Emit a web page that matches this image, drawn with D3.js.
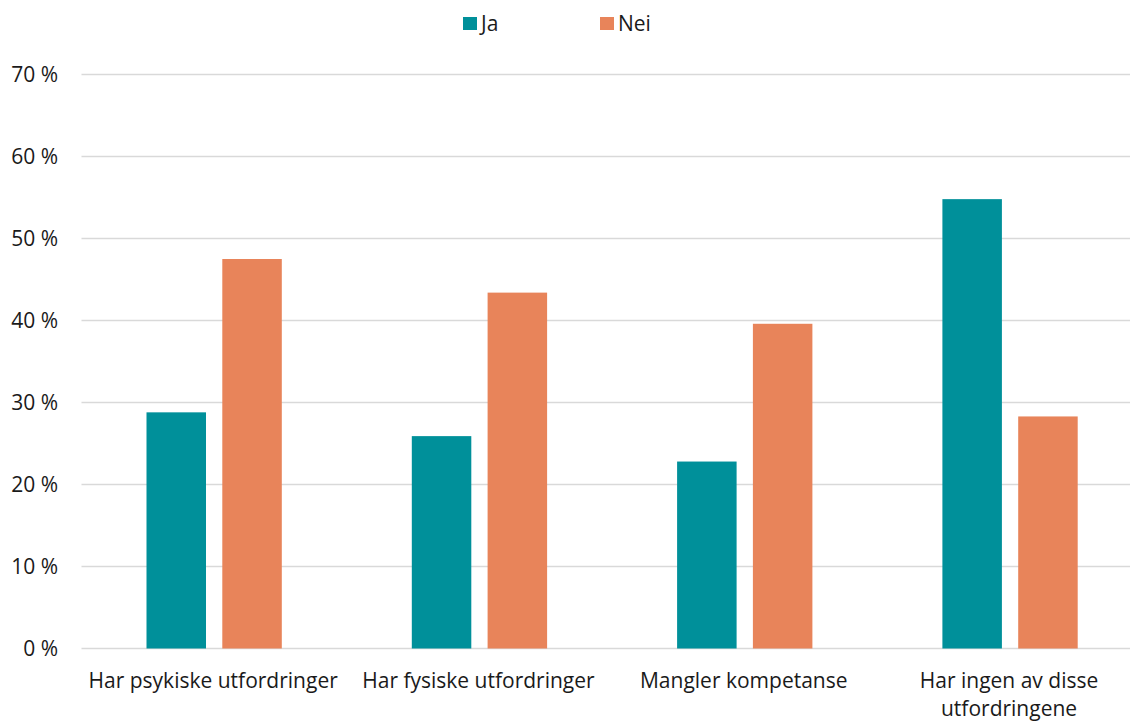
<!DOCTYPE html>
<html>
<head>
<meta charset="utf-8">
<script src="https://cdn.jsdelivr.net/npm/d3@7"></script>
<style>
  html, body { margin: 0; padding: 0; background: #fff; }
  svg text { font-family: "Open Sans", Lato, sans-serif; fill: #1a1a1a; }
</style>
</head>
<body>
<svg id="chart" width="1130" height="722"></svg>
<script>
// Andel som svarer ja / nei per utfordring
const categories = [
  ["Har psykiske utfordringer"],
  ["Har fysiske utfordringer"],
  ["Mangler kompetanse"],
  ["Har ingen av disse", "utfordringene"]
];
const seriesNames = ["Ja", "Nei"];
const jaValues  = [28.8, 25.9, 22.8, 54.8];
const neiValues = [47.5, 43.4, 39.6, 28.3];
const yTicks = [0, 10, 20, 30, 40, 50, 60, 70];

const colors = { Ja: "#00909a", Nei: "#e8845a" };
const fontSize = 21;

const svg = d3.select("#chart");
const margin = { left: 81.5, top: 74.5, bottom: 648.5 };
const step = 265.3;
const plotRight = margin.left + categories.length * step;
const groupWidth = 135.3;

const x0 = d3.scaleBand()
  .domain(d3.range(categories.length))
  .range([margin.left, plotRight]);

const groupInner = d3.scaleBand()
  .domain(seriesNames)
  .range([0, groupWidth])
  .paddingInner(0.215);

const y = d3.scaleLinear().domain([0, 70]).range([margin.bottom, margin.top]);

// gridlines
svg.append("g")
  .selectAll("line")
  .data(yTicks)
  .join("line")
  .attr("x1", margin.left)
  .attr("x2", plotRight)
  .attr("y1", d => y(d))
  .attr("y2", d => y(d))
  .attr("stroke", "#d9d9d9")
  .attr("stroke-width", 1.3);

// y axis labels
svg.append("g")
  .selectAll("text")
  .data(yTicks)
  .join("text")
  .attr("x", 58)
  .attr("y", d => y(d))
  .attr("dy", "0.35em")
  .attr("text-anchor", "end")
  .attr("font-size", fontSize)
  .text(d => d + " %");

// bars
const rows = categories.map((c, i) => ({ i, Ja: jaValues[i], Nei: neiValues[i] }));
const groups = svg.append("g")
  .selectAll("g")
  .data(rows)
  .join("g")
  .attr("transform", d => `translate(${x0(d.i) + (x0.bandwidth() - groupWidth) / 2},0)`);

groups.selectAll("rect")
  .data(d => seriesNames.map(k => ({ key: k, value: d[k] })))
  .join("rect")
  .attr("x", d => groupInner(d.key))
  .attr("width", groupInner.bandwidth())
  .attr("y", d => y(d.value))
  .attr("height", d => y(0) - y(d.value))
  .attr("fill", d => colors[d.key]);

// category labels
const xl = svg.append("g")
  .selectAll("text")
  .data(categories)
  .join("text")
  .attr("x", (d, i) => x0(i) + x0.bandwidth() / 2 - 1)
  .attr("y", 688)
  .attr("text-anchor", "middle")
  .attr("font-size", fontSize);
xl.selectAll("tspan")
  .data(d => d)
  .join("tspan")
  .attr("x", function() { return d3.select(this.parentNode).attr("x"); })
  .attr("dy", (d, j) => j === 0 ? 0 : 28)
  .text(d => d);

// legend
const legend = svg.append("g")
  .selectAll("g")
  .data(seriesNames)
  .join("g")
  .attr("transform", (d, i) => `translate(${463 + i * 137},17)`);
legend.append("rect")
  .attr("width", 14)
  .attr("height", 13)
  .attr("fill", d => colors[d]);
legend.append("text")
  .attr("x", 18)
  .attr("y", 6.5)
  .attr("dy", "0.35em")
  .attr("font-size", fontSize)
  .text(d => d);
</script>
</body>
</html>
